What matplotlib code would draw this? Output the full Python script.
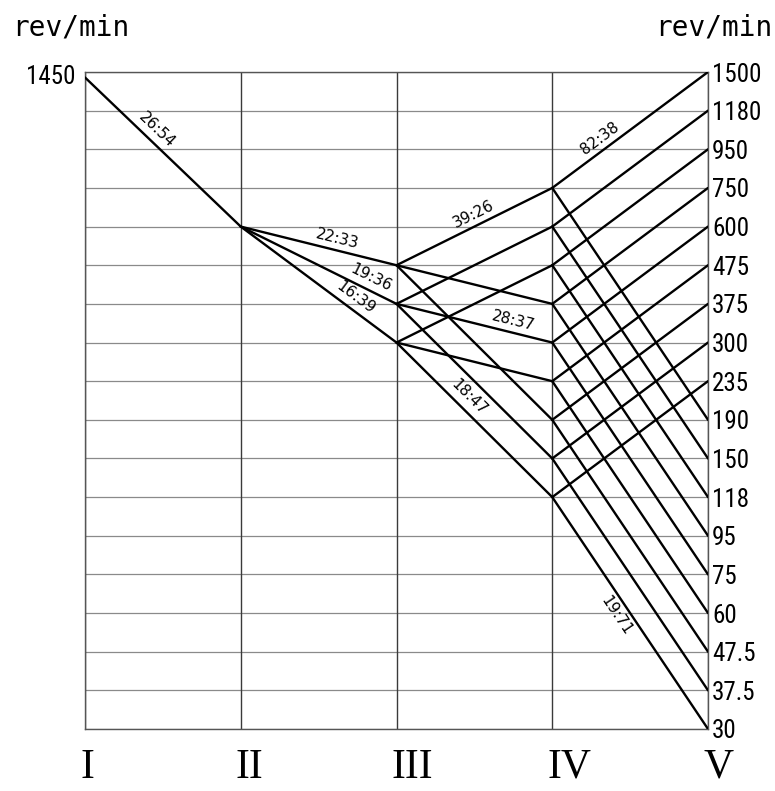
import numpy as np
import matplotlib
matplotlib.use("Agg")
import matplotlib.pyplot as plt
from matplotlib.transforms import ScaledTranslation

# Speed levels on the output shaft (rev/min), bottom to top
speeds = [30, 37.5, 47.5, 60, 75, 95, 118, 150, 190, 235, 300, 375, 475, 600, 750, 950, 1180, 1500]
speed_labels = ['30', '37.5', '47.5', '60', '75', '95', '118', '150', '190', '235',
                '300', '375', '475', '600', '750', '950', '1180', '1500']
shafts = ['I', 'II', 'III', 'IV', 'V']
motor_speed = 1450

# Transmission paths between neighbouring shafts: (from speed, to speed)
stage_1 = [(1450, 600)]
stage_2 = [(600, 475), (600, 375), (600, 300)]
stage_3 = [(475, 750), (475, 375), (475, 190),
           (375, 600), (375, 300), (375, 150),
           (300, 475), (300, 235), (300, 118)]
stage_4_from = [750, 600, 475, 375, 300, 235, 190, 150, 118]
stage_4_up = [1500, 1180, 950, 750, 600, 475, 375, 300, 235]
stage_4_down = [190, 150, 118, 95, 75, 60, 47.5, 37.5, 30]

# Gear ratios written on the lines: (text, stage index, from speed, to speed)
ratios = [('26:54', 0, 1450, 600),
          ('22:33', 1, 600, 475),
          ('19:36', 1, 600, 375),
          ('16:39', 1, 600, 300),
          ('39:26', 2, 475, 750),
          ('28:37', 2, 375, 300),
          ('18:47', 2, 300, 118),
          ('82:38', 3, 750, 1500),
          ('19:71', 3, 118, 30)]

narrow = ['Roboto Condensed', 'Liberation Sans', 'DejaVu Sans']


def ypos(s):
    # equally spaced levels (geometric series), log-interpolated for 1450
    return np.interp(np.log(s), np.log(speeds), np.arange(len(speeds)))


fig = plt.figure(figsize=(7.75, 7.91), dpi=100)
ax = fig.add_axes([85 / 775, 62 / 791, 623 / 775, 657 / 791])
ax.set_xlim(0, 4)
ax.set_ylim(0, len(speeds) - 1)

# grid
for i in range(len(speeds)):
    ax.axhline(i, color='#8a8a8a', lw=0.9, zorder=1)
for i in range(len(shafts)):
    ax.axvline(i, color='#3a3a3a', lw=1.0, zorder=1)
for sp in ax.spines.values():
    sp.set_color('#555555')
    sp.set_linewidth(1.0)

# speed lines
stages = [stage_1, stage_2, stage_3, list(zip(stage_4_from, stage_4_up)) + list(zip(stage_4_from, stage_4_down))]
for k, pairs in enumerate(stages):
    for s0, s1 in pairs:
        ax.plot([k, k + 1], [ypos(s0), ypos(s1)], color='black', lw=1.7, zorder=3,
                solid_capstyle='round')

# ticks
ax.set_yticks(range(len(speeds)))
ax.set_yticklabels(speed_labels, family=narrow, fontsize=18)
ax.yaxis.tick_right()
ax.tick_params(axis='y', length=0, pad=3)
ax.set_xticks(range(len(shafts)))
ax.set_xticklabels(shafts, family='Liberation Serif', fontsize=30)
ax.tick_params(axis='x', length=0, pad=14)
for lbl in ax.get_xticklabels():
    lbl.set_horizontalalignment('left')
    lbl.set_transform(lbl.get_transform() + ScaledTranslation(-0.05, 0, fig.dpi_scale_trans))

ax.annotate(str(motor_speed), (0, ypos(motor_speed)), xytext=(-7, 0), textcoords='offset points',
            ha='right', va='center', family=narrow, fontsize=18)

fig.text(12 / 775, 1 - 27 / 791, 'rev/min', ha='left', va='center', family='DejaVu Sans Mono', fontsize=20)
fig.text(772 / 775, 1 - 27 / 791, 'rev/min', ha='right', va='center', family='DejaVu Sans Mono', fontsize=20)

# ratio labels along their lines
place = {'26:54': 0.41, '22:33': 0.6, '19:36': 0.8, '16:39': 0.69, '39:26': 0.53,
         '28:37': 0.73, '18:47': 0.41, '82:38': 0.35, '19:71': 0.48}
for txt, k, s0, s1 in ratios:
    p0 = ax.transData.transform((k, ypos(s0)))
    p1 = ax.transData.transform((k + 1, ypos(s1)))
    rad = np.arctan2(p1[1] - p0[1], p1[0] - p0[0])
    t = place[txt]
    below = txt == '19:71'
    d = -4 if below else 3
    ax.annotate(txt, (k + t, ypos(s0) + t * (ypos(s1) - ypos(s0))),
                xytext=(-np.sin(rad) * d, np.cos(rad) * d), textcoords='offset points',
                rotation=np.degrees(rad), rotation_mode='anchor',
                ha='center', va='top' if below else 'bottom',
                family='DejaVu Sans', fontsize=11, zorder=4)

plt.savefig('out.png', dpi=100)
